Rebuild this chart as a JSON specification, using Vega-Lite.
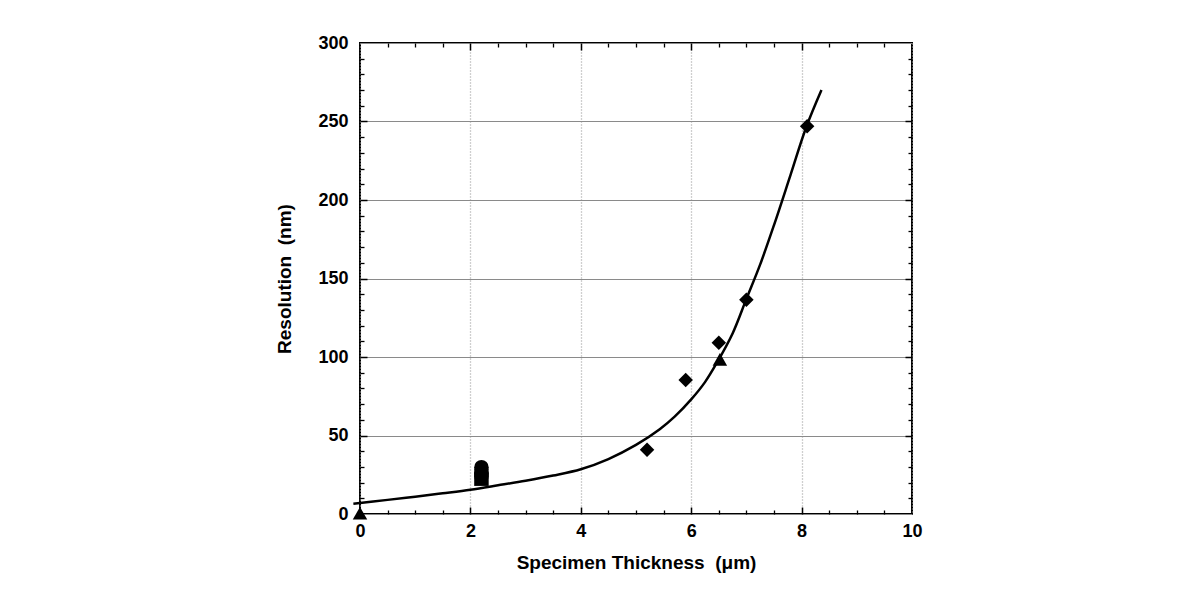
{
  "$schema": "https://vega.github.io/schema/vega-lite/v6.json",
  "width": 552,
  "height": 471,
  "autosize": {"type": "none"},
  "padding": {"left": 360, "top": 43, "right": 270, "bottom": 82},
  "background": "white",
  "config": {
    "view": {"stroke": "black", "strokeWidth": 2},
    "font": "Liberation Sans"
  },
  "datasets": {
    "curve": [
      {"x": -0.12, "y": 6.5}, {"x": 0.5, "y": 9}, {"x": 1, "y": 11}, {"x": 1.5, "y": 13.2},
      {"x": 2, "y": 15.5}, {"x": 2.5, "y": 18.3}, {"x": 3, "y": 21.2}, {"x": 3.5, "y": 24.5},
      {"x": 4, "y": 28.5}, {"x": 4.5, "y": 35}, {"x": 5, "y": 44}, {"x": 5.43, "y": 54},
      {"x": 5.7, "y": 62}, {"x": 6, "y": 73}, {"x": 6.25, "y": 84}, {"x": 6.46, "y": 96},
      {"x": 6.75, "y": 115}, {"x": 7, "y": 137}, {"x": 7.25, "y": 159}, {"x": 7.5, "y": 184},
      {"x": 7.8, "y": 216}, {"x": 8.08, "y": 246}, {"x": 8.36, "y": 270}
    ],
    "points": [
      {"x": 0, "y": 0.5, "shape": "triangle"},
      {"x": 2.2, "y": 22.5, "shape": "square"},
      {"x": 2.2, "y": 24, "shape": "circle"},
      {"x": 2.2, "y": 26, "shape": "circle"},
      {"x": 2.2, "y": 28, "shape": "circle"},
      {"x": 2.2, "y": 29.8, "shape": "circle"},
      {"x": 5.2, "y": 41, "shape": "diamond"},
      {"x": 5.9, "y": 85.4, "shape": "diamond"},
      {"x": 6.52, "y": 98.5, "shape": "triangle"},
      {"x": 6.5, "y": 109, "shape": "diamond"},
      {"x": 7.0, "y": 136.5, "shape": "diamond"},
      {"x": 8.1, "y": 247, "shape": "diamond"}
    ],
    "anchor": [{"x": 0, "y": 0}]
  },
  "resolve": {"axis": {"x": "independent", "y": "independent"}},
  "layer": [
    {
      "data": {"name": "anchor"},
      "mark": {"type": "point", "opacity": 0},
      "encoding": {
        "x": {"field": "x", "type": "quantitative", "scale": {"domain": [0, 10], "nice": false},
          "axis": {"orient": "bottom", "values": [0, 2, 4, 6, 8, 10], "ticks": false, "domain": false,
            "grid": true, "gridColor": "#a0a0a0", "gridDash": [1, 2], "gridWidth": 1.3,
            "labelFont": "Liberation Sans", "labelFontWeight": "bold", "labelFontSize": 18, "labelColor": "black",
            "labelFlush": false, "labelPadding": 8, "title": "Specimen Thickness\u00a0 (μm)", "titleFont": "Liberation Sans",
            "titleFontWeight": "bold", "titleFontSize": 19, "titleColor": "black", "titlePadding": 13}},
        "y": {"field": "y", "type": "quantitative", "scale": {"domain": [0, 300], "nice": false},
          "axis": {"orient": "left", "values": [0, 50, 100, 150, 200, 250, 300], "ticks": false, "domain": false,
            "grid": true, "gridColor": "#8a8a8a", "gridWidth": 1.2,
            "labelFont": "Liberation Sans", "labelFontWeight": "bold", "labelFontSize": 18, "labelColor": "black",
            "labelFlush": false, "labelPadding": 12, "title": "Resolution\u00a0 (nm)", "titleFont": "Liberation Sans",
            "titleFontWeight": "bold", "titleFontSize": 19, "titleColor": "black", "titlePadding": 23}}
      }
    },
    {
      "data": {"name": "anchor"},
      "mark": {"type": "point", "opacity": 0},
      "encoding": {
        "x": {"field": "x", "type": "quantitative",
          "axis": {"orient": "bottom", "values": [0.5, 1, 1.5, 2.5, 3, 3.5, 4.5, 5, 5.5, 6.5, 7, 7.5, 8.5, 9, 9.5],
            "labels": false, "title": null, "domain": false, "grid": false, "tickSize": 4, "offset": -4,
            "tickColor": "black", "tickWidth": 1.3}},
        "y": {"field": "y", "type": "quantitative",
          "axis": {"orient": "left", "values": [10, 20, 30, 40, 60, 70, 80, 90, 110, 120, 130, 140, 160, 170, 180, 190, 210, 220, 230, 240, 260, 270, 280, 290],
            "labels": false, "title": null, "domain": false, "grid": false, "tickSize": 4, "offset": -4,
            "tickColor": "black", "tickWidth": 1.3}}
      }
    },
    {
      "data": {"name": "anchor"},
      "mark": {"type": "point", "opacity": 0},
      "encoding": {
        "x": {"field": "x", "type": "quantitative",
          "axis": {"orient": "top", "values": [0.5, 1, 1.5, 2.5, 3, 3.5, 4.5, 5, 5.5, 6.5, 7, 7.5, 8.5, 9, 9.5],
            "labels": false, "title": null, "domain": false, "grid": false, "tickSize": 4, "offset": -4,
            "tickColor": "black", "tickWidth": 1.3}},
        "y": {"field": "y", "type": "quantitative",
          "axis": {"orient": "right", "values": [10, 20, 30, 40, 60, 70, 80, 90, 110, 120, 130, 140, 160, 170, 180, 190, 210, 220, 230, 240, 260, 270, 280, 290],
            "labels": false, "title": null, "domain": false, "grid": false, "tickSize": 4, "offset": -4,
            "tickColor": "black", "tickWidth": 1.3}}
      }
    },
    {
      "data": {"name": "anchor"},
      "mark": {"type": "point", "opacity": 0},
      "encoding": {
        "x": {"field": "x", "type": "quantitative",
          "axis": {"orient": "bottom", "values": [2, 4, 6, 8],
            "labels": false, "title": null, "domain": false, "grid": false, "tickSize": 7, "offset": -7,
            "tickColor": "black", "tickWidth": 1.5}},
        "y": {"field": "y", "type": "quantitative",
          "axis": {"orient": "left", "values": [50, 100, 150, 200, 250],
            "labels": false, "title": null, "domain": false, "grid": false, "tickSize": 7, "offset": -7,
            "tickColor": "black", "tickWidth": 1.5}}
      }
    },
    {
      "data": {"name": "anchor"},
      "mark": {"type": "point", "opacity": 0},
      "encoding": {
        "x": {"field": "x", "type": "quantitative",
          "axis": {"orient": "top", "values": [2, 4, 6, 8],
            "labels": false, "title": null, "domain": false, "grid": false, "tickSize": 7, "offset": -7,
            "tickColor": "black", "tickWidth": 1.5}},
        "y": {"field": "y", "type": "quantitative",
          "axis": {"orient": "right", "values": [50, 100, 150, 200, 250],
            "labels": false, "title": null, "domain": false, "grid": false, "tickSize": 7, "offset": -7,
            "tickColor": "black", "tickWidth": 1.5}}
      }
    },
    {
      "data": {"name": "curve"},
      "mark": {"type": "line", "color": "black", "strokeWidth": 2.5, "interpolate": "catmull-rom"},
      "encoding": {
        "x": {"field": "x", "type": "quantitative", "axis": null},
        "y": {"field": "y", "type": "quantitative", "axis": null}
      }
    },
    {
      "data": {"name": "points"},
      "mark": {"type": "point", "filled": true, "color": "black", "opacity": 1, "size": 210},
      "encoding": {
        "x": {"field": "x", "type": "quantitative", "axis": null},
        "y": {"field": "y", "type": "quantitative", "axis": null},
        "shape": {"field": "shape", "type": "nominal", "legend": null,
          "scale": {"domain": ["triangle", "square", "circle", "diamond"], "range": ["triangle-up", "square", "circle", "diamond"]}}
      }
    }
  ]
}
